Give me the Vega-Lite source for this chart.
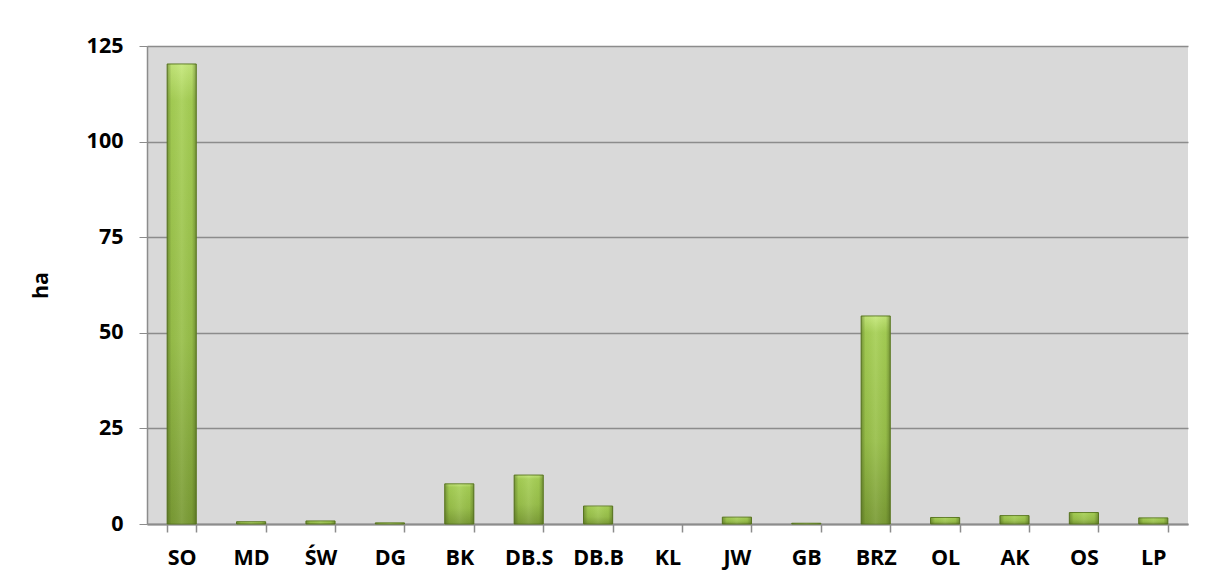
{
  "$schema": "https://vega.github.io/schema/vega-lite/v6.json",
  "width": 1041,
  "height": 478,
  "autosize": "none",
  "padding": {"left": 147, "top": 46, "right": 18, "bottom": 60},
  "background": "white",
  "config": {
    "view": {"fill": "#D9D9D9", "stroke": null},
    "font": "Open Sans"
  },
  "data": {
    "values": [
      {"k": "SO", "ha": 120.3},
      {"k": "MD", "ha": 0.6},
      {"k": "ŚW", "ha": 0.8},
      {"k": "DG", "ha": 0.3},
      {"k": "BK", "ha": 10.5},
      {"k": "DB.S", "ha": 12.8},
      {"k": "DB.B", "ha": 4.7},
      {"k": "KL", "ha": 0},
      {"k": "JW", "ha": 1.8},
      {"k": "GB", "ha": 0.2},
      {"k": "BRZ", "ha": 54.4},
      {"k": "OL", "ha": 1.7},
      {"k": "AK", "ha": 2.2},
      {"k": "OS", "ha": 3.0},
      {"k": "LP", "ha": 1.6}
    ]
  },
  "encoding": {
    "x": {
      "field": "k", "type": "nominal", "sort": null,
      "scale": {"paddingInner": 0.58, "paddingOuter": 0.29},
      "axis": {
        "title": null, "labelAngle": 0, "labelFont": "Open Sans", "labelFontWeight": "bold",
        "labelFontSize": 21.5, "labelColor": "#000000", "labelPadding": 15,
        "tickBand": "extent", "tickSize": 8, "tickColor": "#8C8C8C", "domainColor": "#8C8C8C",
        "domainWidth": 2, "tickWidth": 1.5, "grid": false
      }
    },
    "y": {
      "field": "ha", "type": "quantitative",
      "scale": {"domain": [0, 125], "nice": false},
      "axis": {
        "title": "ha", "values": [0, 25, 50, 75, 100, 125],
        "titleFont": "Open Sans", "titleFontWeight": "bold", "titleFontSize": 21.5, "titleColor": "#000000",
        "titlePadding": 34,
        "labelFont": "Open Sans", "labelFontWeight": "bold", "labelFontSize": 21.5, "labelColor": "#000000",
        "labelPadding": 16, "tickSize": 8, "tickColor": "#8C8C8C", "domainColor": "#8C8C8C",
        "domainWidth": 1.5, "gridColor": "#8C8C8C", "gridWidth": 1.5, "gridOpacity": 1
      }
    }
  },
  "layer": [
    {
      "mark": {
        "type": "bar", "strokeWidth": 1,
        "color": {
          "gradient": "linear", "x1": 0, "y1": 0, "x2": 0, "y2": 1,
          "stops": [
            {"offset": 0, "color": "#C5E87A"},
            {"offset": 0.08, "color": "#A6CF55"},
            {"offset": 0.6, "color": "#98BF4A"},
            {"offset": 1, "color": "#7A9B35"}
          ]
        }
      },
      "encoding": {
        "stroke": {"condition": {"test": "datum.ha > 0", "value": "#5F7D25"}, "value": null}
      }
    },
    {
      "mark": {
        "type": "bar",
        "color": {
          "gradient": "linear", "x1": 0, "y1": 0, "x2": 1, "y2": 0,
          "stops": [
            {"offset": 0, "color": "rgba(60,80,20,0.45)"},
            {"offset": 0.15, "color": "rgba(60,80,20,0.05)"},
            {"offset": 0.5, "color": "rgba(255,255,255,0.08)"},
            {"offset": 0.85, "color": "rgba(60,80,20,0.05)"},
            {"offset": 1, "color": "rgba(60,80,20,0.45)"}
          ]
        }
      }
    }
  ]
}
